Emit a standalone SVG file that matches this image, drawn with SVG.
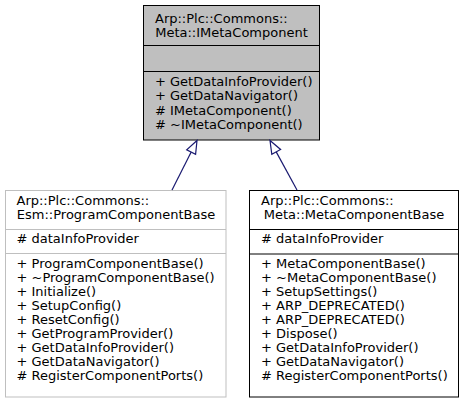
<svg xmlns="http://www.w3.org/2000/svg" width="464" height="404" viewBox="0 0 464 404">
<style>
text{font-family:"DejaVu Sans",sans-serif;font-size:13px;fill:#000}
.m{text-anchor:middle}
.box{stroke-width:1}
.edge{stroke:#191970;stroke-width:1.2;fill:none}
.head{stroke:#191970;stroke-width:1.2;fill:#fff}
</style>
<rect width="464" height="404" fill="#fff"/>
<g id="node-IMetaComponent">
<rect class="box" x="143.5" y="5.5" width="176" height="134.5" fill="#bfbfbf" stroke="#000"/>
<line x1="143.5" y1="45.5" x2="319.5" y2="45.5" stroke="#000"/>
<line x1="143.5" y1="71.5" x2="319.5" y2="71.5" stroke="#000"/>
<text x="155" y="22.5">Arp::Plc::Commons::</text>
<text class="m" x="231.5" y="36.5">Meta::IMetaComponent</text>
<text x="155" y="86">+ GetDataInfoProvider()</text>
<text x="155" y="100.3">+ GetDataNavigator()</text>
<text x="155" y="114.7">&#35; IMetaComponent()</text>
<text x="155" y="129">&#35; ~IMetaComponent()</text>
</g>
<g id="node-ProgramComponentBase">
<rect class="box" x="5.5" y="190.5" width="220.5" height="206.5" fill="#fff" stroke="#bfbfbf"/>
<line x1="5.5" y1="229.5" x2="226" y2="229.5" stroke="#bfbfbf"/>
<line x1="5.5" y1="253.5" x2="226" y2="253.5" stroke="#bfbfbf"/>
<text x="16.5" y="205">Arp::Plc::Commons::</text>
<text class="m" x="116" y="219">Esm::ProgramComponentBase</text>
<text x="16.5" y="243">&#35; dataInfoProvider</text>
<text x="16.5" y="268">+ ProgramComponentBase()</text>
<text x="16.5" y="282">+ ~ProgramComponentBase()</text>
<text x="16.5" y="296">+ Initialize()</text>
<text x="16.5" y="310">+ SetupConfig()</text>
<text x="16.5" y="324">+ ResetConfig()</text>
<text x="16.5" y="338">+ GetProgramProvider()</text>
<text x="16.5" y="352">+ GetDataInfoProvider()</text>
<text x="16.5" y="366">+ GetDataNavigator()</text>
<text x="16.5" y="380">&#35; RegisterComponentPorts()</text>
</g>
<g id="node-MetaComponentBase">
<rect class="box" x="249.5" y="190.5" width="209" height="206.5" fill="#fff" stroke="#000"/>
<line x1="249.5" y1="229.5" x2="458.5" y2="229.5" stroke="#000"/>
<line x1="249.5" y1="254" x2="458.5" y2="254" stroke="#000"/>
<text x="261" y="205">Arp::Plc::Commons::</text>
<text class="m" x="354" y="219">Meta::MetaComponentBase</text>
<text x="261" y="243">&#35; dataInfoProvider</text>
<text x="261" y="268">+ MetaComponentBase()</text>
<text x="261" y="282">+ ~MetaComponentBase()</text>
<text x="261" y="296">+ SetupSettings()</text>
<text x="261" y="310">+ ARP_DEPRECATED()</text>
<text x="261" y="324">+ ARP_DEPRECATED()</text>
<text x="261" y="338">+ Dispose()</text>
<text x="261" y="352">+ GetDataInfoProvider()</text>
<text x="261" y="366">+ GetDataNavigator()</text>
<text x="261" y="380">&#35; RegisterComponentPorts()</text>
</g>
<g id="connectors">
<line class="edge" x1="172" y1="190" x2="191.2" y2="152.1"/>
<polygon class="head" points="197,140.5 186.7,149.9 195.6,154.3"/>
<line class="edge" x1="297" y1="190" x2="276.2" y2="151.9"/>
<polygon class="head" points="270,140.5 280.6,149.5 271.8,154.3"/>
</g>
</svg>
